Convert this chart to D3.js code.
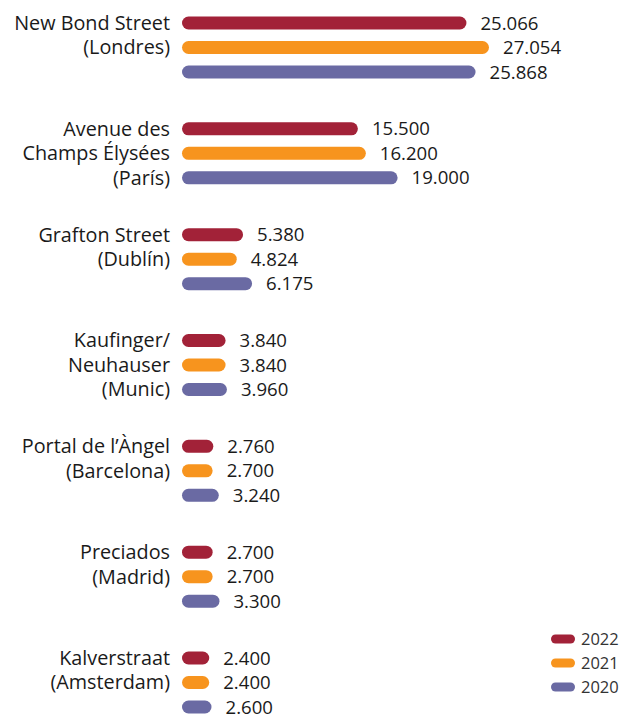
<!DOCTYPE html>
<html>
<head>
<meta charset="utf-8">
<script src="https://cdn.jsdelivr.net/npm/d3@7/dist/d3.min.js"></script>
<style>
  body { margin: 0; background: #fff; }
  svg text { font-family: "Open Sans", sans-serif; fill: #1a1a1a; }
</style>
</head>
<body>
<svg id="chart" width="622" height="715"></svg>
<script>
var streets = [
  ["New Bond Street", "(Londres)"],
  ["Avenue des", "Champs Élysées", "(París)"],
  ["Grafton Street", "(Dublín)"],
  ["Kaufinger/", "Neuhauser", "(Munic)"],
  ["Portal de l’Àngel", "(Barcelona)"],
  ["Preciados", "(Madrid)"],
  ["Kalverstraat", "(Amsterdam)"]
];
var years = ["2022", "2021", "2020"];
var colors = ["#a22238", "#f7941e", "#6a6aa3"];
var values2022 = [25066, 15500, 5380, 3840, 2760, 2700, 2400];
var values2021 = [27054, 16200, 4824, 3840, 2700, 2700, 2400];
var values2020 = [25868, 19000, 6175, 3960, 3240, 3300, 2600];
var series = [values2022, values2021, values2020];

var svg = d3.select("#chart");
var fmt = d3.format(",d");
var fmtNum = function (v) { return fmt(v).replace(/,/g, "."); };

var x = d3.scaleLinear().domain([0, 27054]).range([182, 489]);
var groupY = d3.scalePoint().domain(d3.range(streets.length)).range([23, 658]);
var rowStep = 24.5;
var barH = 13;

streets.forEach(function (lines, i) {
  var g = svg.append("g");
  var y0 = groupY(i);

  //label lines sit on the bar rows
  lines.forEach(function (line, j) {
    g.append("text")
      .attr("x", 170)
      .attr("y", y0 + j * rowStep)
      .attr("dy", "0.35em")
      .attr("text-anchor", "end")
      .style("font-size", "19.8px")
      .text(line);
  });

  series.forEach(function (vals, k) {
    var cy = y0 + k * rowStep;
    g.append("rect")
      .attr("x", x(0))
      .attr("y", cy - barH / 2)
      .attr("width", x(vals[i]) - x(0))
      .attr("height", barH)
      .attr("rx", barH / 2)
      .attr("fill", colors[k]);
    g.append("text")
      .attr("x", x(vals[i]) + 14)
      .attr("y", cy)
      .attr("dy", "0.35em")
      .style("font-size", "18.6px")
      .text(fmtNum(vals[i]));
  });
});

//legend
var legend = svg.append("g").attr("transform", "translate(551,639)");
years.forEach(function (yr, k) {
  legend.append("rect")
    .attr("x", 0)
    .attr("y", k * 24 - 4.5)
    .attr("width", 24)
    .attr("height", 9)
    .attr("rx", 4.5)
    .attr("fill", colors[k]);
  legend.append("text")
    .attr("x", 30)
    .attr("y", k * 24)
    .attr("dy", "0.35em")
    .style("font-size", "16.5px")
    .style("fill", "#333")
    .text(yr);
});
</script>
</body>
</html>
